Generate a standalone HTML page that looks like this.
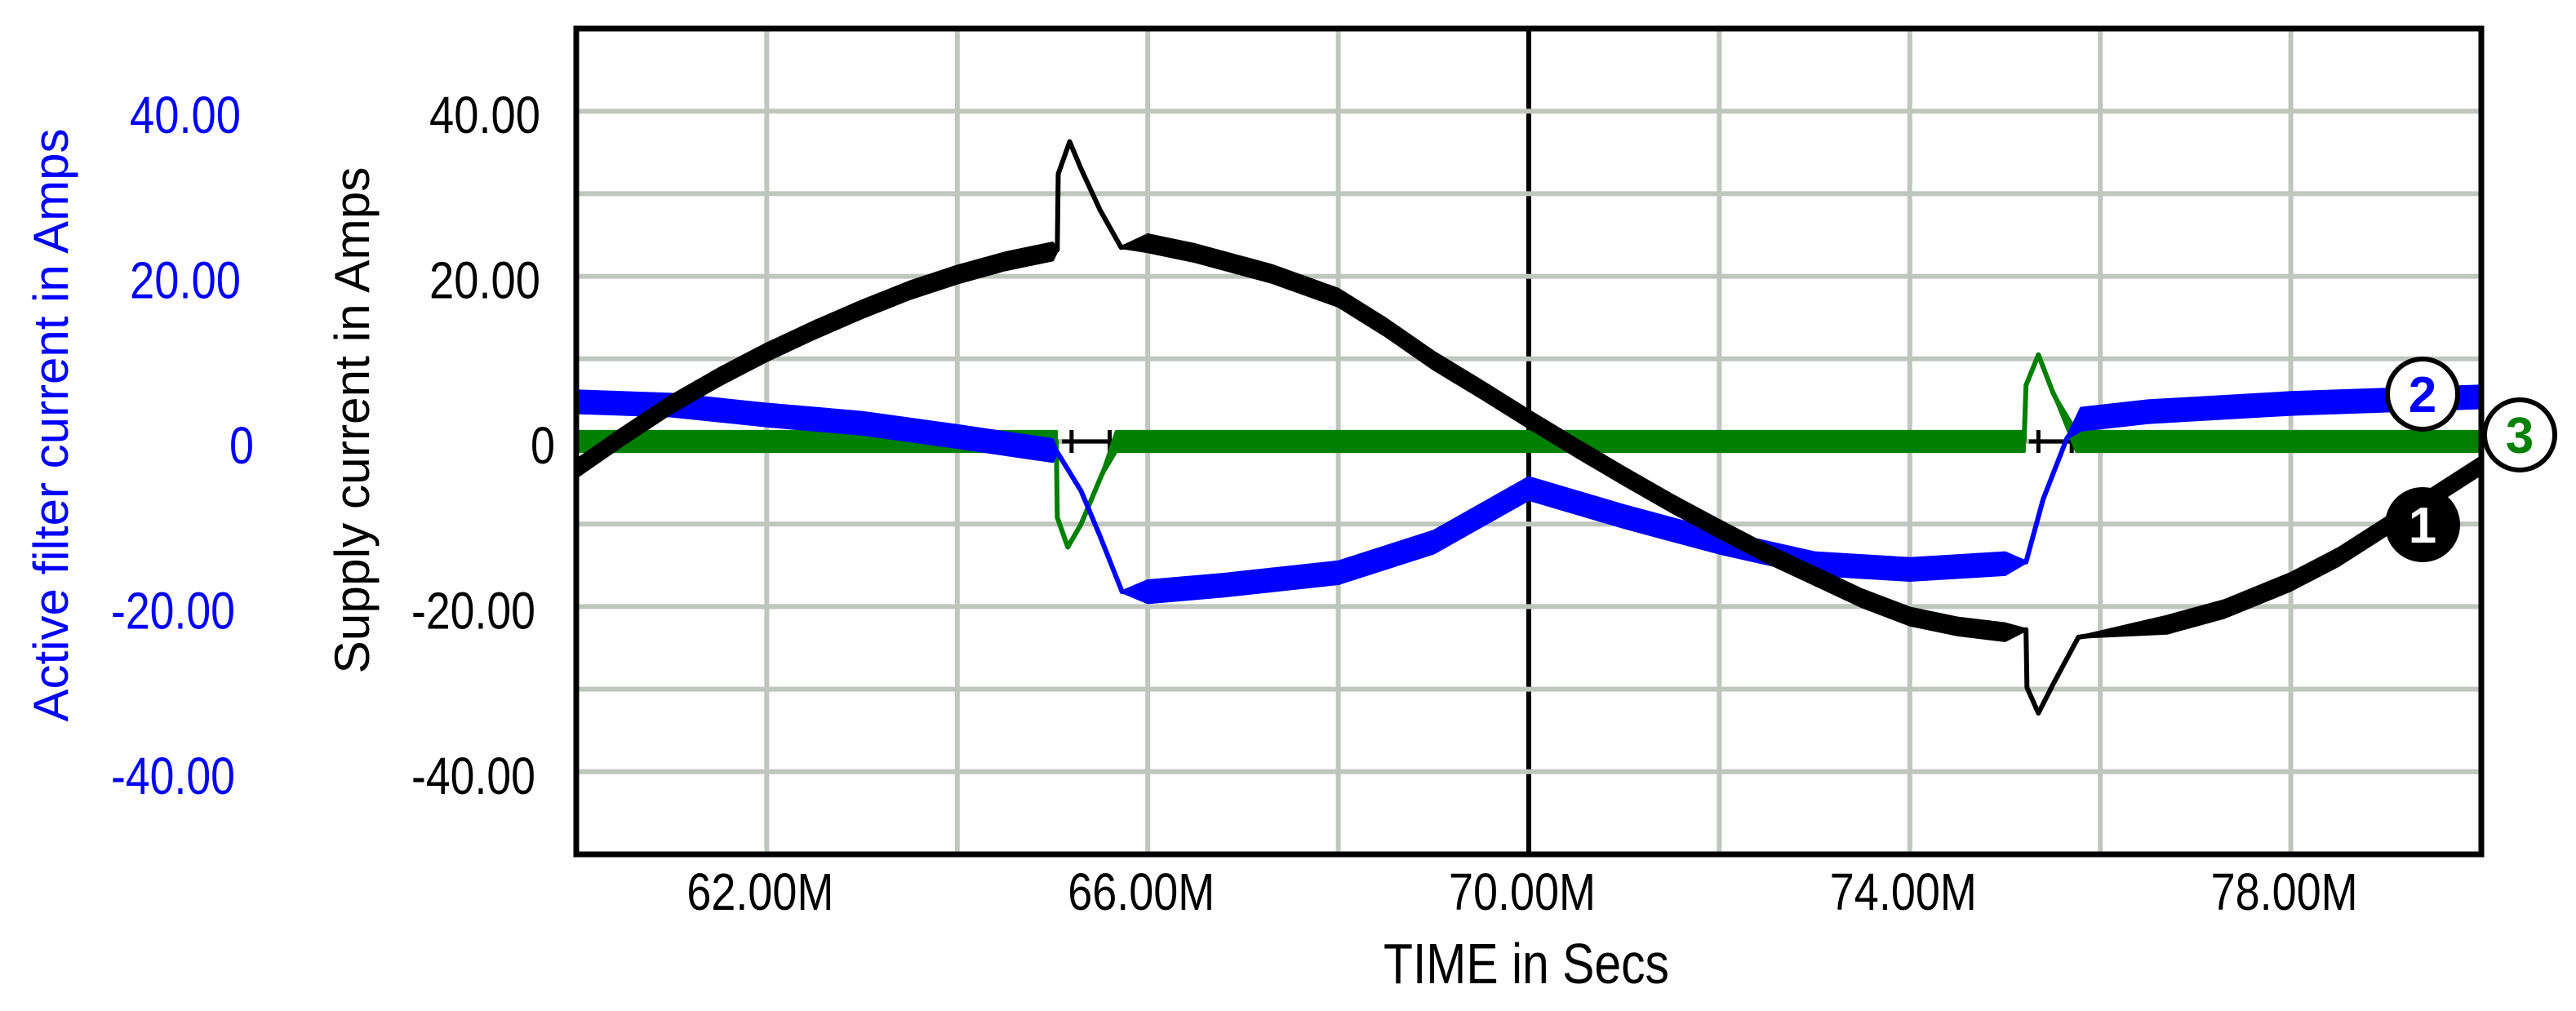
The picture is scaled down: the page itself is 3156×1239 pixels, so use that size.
<!DOCTYPE html>
<html><head><meta charset="utf-8"><style>
html,body{margin:0;padding:0;background:#fff;}
svg{display:block;font-family:"Liberation Sans",Arial,sans-serif;}
</style></head><body>
<svg id="chart" width="3156" height="1239" viewBox="0 0 3156 1239" xmlns="http://www.w3.org/2000/svg">
<rect x="0" y="0" width="3156" height="1239" fill="#fff"/>
<g id="grid"></g>
<g id="series"></g>
<g id="frame"></g>
<g id="labels"></g>
<g id="markers"></g>
</svg>
<script>
// ---- data ----
var xTicks = [62, 66, 70, 74, 78];
var xTickLabels = ["62.00M", "66.00M", "70.00M", "74.00M", "78.00M"];
var yTicks = [40, 20, 0, -20, -40];
var yTickLabels = ["40.00", "20.00", "0", "-20.00", "-40.00"];
// supply current (black, series 1)
var supplyT = [60, 60.5, 61, 61.5, 62, 62.5, 63, 63.5, 64, 64.5, 65, 65.05, 65.06, 65.18, 65.3, 65.5, 65.72, 66, 66.5, 67.3, 68, 68.5, 69, 69.5, 70, 70.5, 71, 71.5, 72, 72.5, 73, 73.5, 74, 74.5, 75, 75.22, 75.23, 75.35, 75.5, 75.77, 76.7, 77.3, 78, 78.5, 79, 79.5, 80];
var supplyV = [-3.3, 0.7, 4.5, 7.8, 10.8, 13.5, 16, 18.3, 20.2, 21.8, 23, 23.2, 32.4, 36.3, 33, 28, 23.5, 24, 22.8, 20.3, 17.4, 13.8, 9.8, 6.3, 2.7, -0.8, -4.2, -7.5, -10.6, -13.6, -16.3, -19, -21.2, -22.4, -23.1, -22.8, -29.8, -32.9, -29.5, -23.7, -22.2, -20.3, -17, -14, -10.3, -6.6, -2.9];
var supplyRipple = [1, 1, 1, 1, 1, 1, 1, 1, 1, 1, 1, 0, 0, 0, 0, 0, 0, 1, 1, 1, 1, 1, 1, 1, 1, 1, 1, 1, 1, 1, 1, 1, 1, 1, 1, 0, 0, 0, 0, 0, 1, 1, 1, 1, 1, 1, 1];
// active filter current (blue, series 2)
var filterT = [60, 61, 62, 63, 64, 65, 65.05, 65.3, 65.5, 65.73, 66, 66.8, 68, 69, 70, 71, 72, 73, 74, 75, 75.22, 75.4, 75.65, 75.8, 76.5, 78, 80];
var filterV = [4.8, 4.4, 3.2, 2.2, 0.6, -1.1, -1.3, -6, -11.5, -18.2, -18.2, -17.4, -15.9, -12.2, -5.7, -9.1, -12.2, -14.8, -15.5, -14.8, -14.6, -7, 0.4, 2.7, 3.6, 4.6, 5.4];
var filterRipple = [1.3, 1.3, 1.3, 1.3, 1.3, 1.3, 0, 0, 0, 0, 1.3, 1.3, 1.3, 1.3, 1.3, 1.3, 1.3, 1.3, 1.3, 1.3, 0, 0, 0, 1.3, 1.3, 1.3, 1.3];
// load-side current (green, series 3)
var loadT = [60, 65.04, 65.05, 65.16, 65.3, 65.5, 65.67, 75.2, 75.22, 75.35, 75.5, 75.75, 80];
var loadV = [0, 0, -9.2, -12.8, -10, -4.5, 0, 0, 6.8, 10.5, 6, 0, 0];
var loadRipple = [1.2, 1.2, 0, 0, 0, 0, 1.2, 1.2, 0, 0, 0, 1.2, 1.2];

// ---- axes ----
var X0 = 706, X1 = 3040, Y0 = 35, Y1 = 1047;
var T0 = 60, T1 = 80, V0 = 50, V1 = -50;
function xs(t){ return X0 + (t - T0) / (T1 - T0) * (X1 - X0); }
function ys(v){ return Y0 + (V0 - v) / (V0 - V1) * (Y1 - Y0); }
var NS = "http://www.w3.org/2000/svg";
function mk(tag, attrs, parent){
  var e = document.createElementNS(NS, tag);
  for (var k in attrs) e.setAttribute(k, attrs[k]);
  parent.appendChild(e); return e;
}
var grid = document.getElementById('grid');
for (var t = 62; t < 80; t += 2) {
  var gl = mk('line', {x1: xs(t), x2: xs(t), y1: Y0, y2: Y1, stroke: t === 70 ? '#000' : '#bec6be', 'stroke-width': 6}, grid);
  
  
}
for (var v = -40; v <= 40; v += 10) {
  var hl = mk('line', {x1: X0, x2: X1, y1: ys(v), y2: ys(v), stroke: '#bec6be', 'stroke-width': 6}, grid);
  
  
}

// ---- series ----
var series = document.getElementById('series');
function drawSeries(T, V, R, color, name){
  var g = mk('g', {}, series);
  
  
  var up = [], dn = [];
  for (var i = 0; i < T.length; i++) {
    up.push(xs(T[i]) + ',' + ys(V[i] + R[i]));
    dn.unshift(xs(T[i]) + ',' + ys(V[i] - R[i]));
  }
  var band = mk('polygon', {points: up.concat(dn).join(' '), fill: color, stroke: color, 'stroke-width': 4, 'stroke-linejoin': 'round'}, g);
  
  
  var pts = [];
  for (var j = 0; j < T.length; j++) pts.push(xs(T[j]) + ',' + ys(V[j]));
  var ln = mk('polyline', {points: pts.join(' '), fill: 'none', stroke: color, 'stroke-width': 6, 'stroke-linejoin': 'round'}, g);
  
  
}
var zeroSegs = [[65.1, 65.65], [75.25, 75.75]];
zeroSegs.forEach(function(s){
  var z = mk('line', {x1: xs(s[0]), x2: xs(s[1]), y1: ys(0), y2: ys(0), stroke: '#000', 'stroke-width': 5}, series);
  
  
  [s[0] + 0.1, s[1] - 0.05].forEach(function(tt){
    var tk = mk('line', {x1: xs(tt), x2: xs(tt), y1: ys(0) - 14, y2: ys(0) + 14, stroke: '#000', 'stroke-width': 5}, series);
    
    
  });
});
drawSeries(loadT, loadV, loadRipple, '#008000', 'load-current-series');
drawSeries(filterT, filterV, filterRipple, '#0000ff', 'filter-current-series');
drawSeries(supplyT, supplyV, supplyRipple, '#000000', 'supply-current-series');

// ---- frame ----
var frame = document.getElementById('frame');
var fr = mk('rect', {x: X0, y: Y0, width: X1 - X0, height: Y1 - Y0, fill: 'none', stroke: '#000', 'stroke-width': 7}, frame);



// ---- labels ----
var labels = document.getElementById('labels');
function txt(s, attrs, name){
  var e = mk('text', attrs, labels);
  e.textContent = s;
  
  
  return e;
}
xTicks.forEach(function(t, i){
  txt(xTickLabels[i], {x: xs(t) - 8, y: 1115, 'font-size': 64, 'text-anchor': 'middle', textLength: 180, lengthAdjust: 'spacingAndGlyphs', fill: '#000'}, 'x-tick-label');
});
yTicks.forEach(function(v, i){
  var s = yTickLabels[i];
  var isZero = s === '0';
  var w = isZero ? 30 : (s.charAt(0) === '-' ? 152 : 136);
  txt(s, {x: isZero ? 680 : (s.charAt(0) === '-' ? 656 : 662), y: ys(v) + 27, 'font-size': 64, 'text-anchor': 'end', textLength: w, lengthAdjust: 'spacingAndGlyphs', fill: '#000'}, 'supply-y-tick-label');
  txt(s, {x: isZero ? 311 : (s.charAt(0) === '-' ? 288 : 295), y: ys(v) + 27, 'font-size': 64, 'text-anchor': 'end', textLength: w, lengthAdjust: 'spacingAndGlyphs', fill: '#0000ff'}, 'filter-y-tick-label');
});
txt('TIME in Secs', {x: 1870, y: 1205, 'font-size': 70, 'text-anchor': 'middle', textLength: 350, lengthAdjust: 'spacingAndGlyphs', fill: '#000'}, 'x-axis-title');
txt('Supply current in Amps', {x: 0, y: 0, transform: 'translate(452,515) rotate(-90)', 'font-size': 60, 'text-anchor': 'middle', textLength: 621, lengthAdjust: 'spacingAndGlyphs', fill: '#000'}, 'supply-y-axis-title');
txt('Active filter current in Amps', {x: 0, y: 0, transform: 'translate(83,521) rotate(-90)', 'font-size': 60, 'text-anchor': 'middle', textLength: 727, lengthAdjust: 'spacingAndGlyphs', fill: '#0000ff'}, 'filter-y-axis-title');

// ---- markers ----
var markers = document.getElementById('markers');
var markerDefs = [
  {n: '2', cx: 2968, cy: 483, fill: '#fff', color: '#0000ff', name: 'marker-2'},
  {n: '3', cx: 3087, cy: 533, fill: '#fff', color: '#008000', name: 'marker-3'},
  {n: '1', cx: 2968, cy: 643, fill: '#000', color: '#fff', name: 'marker-1'}
];
markerDefs.forEach(function(m){
  var g = mk('g', {}, markers);
  
  
  mk('circle', {cx: m.cx, cy: m.cy, r: 43, fill: m.fill, stroke: '#000', 'stroke-width': 6}, g);
  var t = mk('text', {x: m.cx, y: m.cy + 22, 'font-size': 62, 'font-weight': 'bold', 'text-anchor': 'middle', fill: m.color}, g);
  t.textContent = m.n;
});
</script>
</body></html>
